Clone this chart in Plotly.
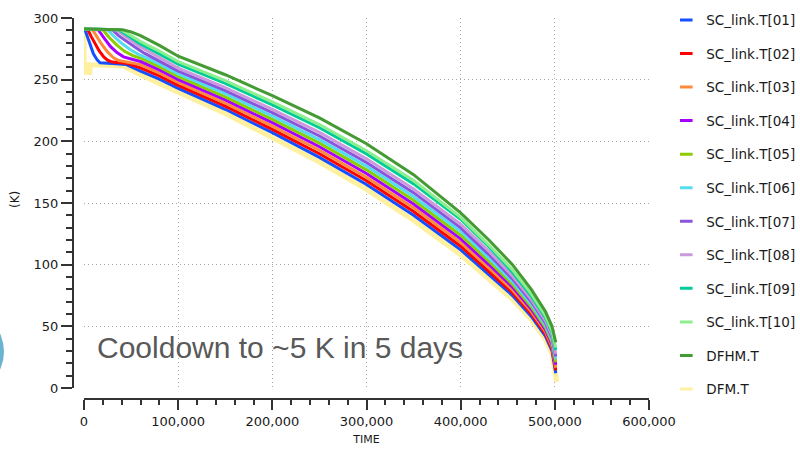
import plotly.graph_objects as go

# ---------------- data (time in thousands of seconds, temperature in K) ----------------
names = ["SC_link.T[01]", "SC_link.T[02]", "SC_link.T[03]", "SC_link.T[04]", "SC_link.T[05]",
         "SC_link.T[06]", "SC_link.T[07]", "SC_link.T[08]", "SC_link.T[09]", "SC_link.T[10]",
         "DFHM.T", "DFM.T"]
colors = ["#1450ff", "#ff0000", "#ff8a3c", "#a800ff", "#8ccc00", "#55dcee",
          "#8a55dd", "#cc99dd", "#00cc99", "#8cee8c", "#449a33", "#fff0a0"]

tail_t = [150, 200, 250, 300, 350, 400, 430, 455, 475, 490, 497, 501]

t01 = [0, 1, 4, 7, 10, 14, 17, 30, 45, 60, 80, 100] + tail_t
y01 = [291, 290.5, 284, 277, 271, 266, 263.7, 263.2, 262.2, 257, 250.5, 243,
       226, 207, 187, 165, 140, 112, 92, 75, 58, 42, 30, 12]
t02 = [0, 4, 8, 12, 16, 21, 25, 30, 45, 60, 80, 100] + tail_t
y02 = [291, 290.5, 284.5, 279, 273.5, 268.5, 265.8, 264.3, 263.4, 259.6, 253, 245.3,
       228.5, 209.7, 189.9, 168, 143.1, 115, 94.7, 77.3, 60, 43.8, 31.8, 14.3]
t03 = [0, 9, 14, 19, 25, 31, 37, 45, 60, 80, 100] + tail_t
y03 = [291, 290.5, 284.5, 278.5, 272.5, 268, 265.5, 264.3, 262.2, 255.4, 247.7,
       231, 212.4, 192.8, 170.9, 146.1, 117.9, 97.4, 79.5, 62, 45.6, 33.6, 16.5]
t04 = [0, 15, 21, 28, 35, 42, 50, 60, 80, 100] + tail_t
y04 = [291, 290.5, 284, 277, 272, 268.5, 266.8, 264.7, 257.9, 250,
       233.6, 215.1, 195.6, 173.9, 149.2, 120.9, 100.1, 81.8, 63.9, 47.4, 35.4, 18.8]
t05 = [0, 20, 27, 35, 43, 52, 62, 80, 100] + tail_t
y05 = [291, 290.5, 284, 278, 273, 269.5, 266.8, 260.3, 252.4,
       236.1, 217.8, 198.5, 176.9, 152.2, 123.9, 102.8, 84, 65.9, 49.2, 37.2, 21]
t06 = [0, 25, 32, 40, 49, 58, 68, 80, 100] + tail_t
y06 = [291, 290.5, 285, 279.5, 274.5, 270.5, 267, 262.8, 254.7,
       238.6, 220.5, 201.4, 179.9, 155.3, 126.9, 105.5, 86.3, 67.9, 51, 39, 23.3]
t07 = [0, 30, 37, 45, 54, 64, 80, 100] + tail_t
y07 = [291, 290.5, 285.5, 281, 276.5, 271.5, 265.2, 257,
       241.1, 223.2, 204.3, 182.8, 158.4, 129.8, 108.2, 88.5, 69.9, 52.8, 40.8, 25.5]
t08 = [0, 34, 41, 49, 58, 68, 80, 100] + tail_t
y08 = [291, 290.5, 286.5, 282, 277.5, 273, 267.7, 259.4,
       243.6, 225.9, 207.2, 185.8, 161.4, 132.8, 110.9, 90.8, 71.9, 54.6, 42.6, 27.8]
t09 = [0, 37, 44, 52, 60, 70, 80, 100] + tail_t
y09 = [291, 290.5, 287, 283, 279, 275, 271, 262.5,
       247, 229.5, 211, 189.8, 165.5, 136.8, 114.5, 93.8, 74.5, 57, 45, 30.8]
t10 = [0, 39, 46, 53, 60, 70, 80, 100] + tail_t
y10 = [291, 290.5, 287.5, 284, 281, 277, 273.2, 264.6,
       249.2, 231.9, 213.6, 192.4, 168.2, 138.4, 115.9, 95.8, 76.3, 58.6, 46.6, 32.8]
t_dfhm = [0, 41, 50, 60, 80, 100] + tail_t
y_dfhm = [291, 290.5, 288.8, 285.7, 277.8, 269,
          254, 237, 219, 198, 173, 142, 120, 100, 80, 62, 50, 37]
t_dfm = [0, 0.3, 0.6, 1, 5, 6, 7, 20, 42, 60, 80, 100] + tail_t + [502]
y_dfm = [293, 254, 262, 262, 262, 254, 262, 262, 261, 254, 247.5, 239.9,
         222.6, 203.4, 183.2, 161, 135.9, 108, 88.4, 72, 55.4, 39.6, 27.6, 8, 5]

series_t = [t01, t02, t03, t04, t05, t06, t07, t08, t09, t10, t_dfhm, t_dfm]
series_y = [y01, y02, y03, y04, y05, y06, y07, y08, y09, y10, y_dfhm, y_dfm]

xtick_vals = [0, 100000, 200000, 300000, 400000, 500000, 600000]
xtick_text = ["0", "100,000", "200,000", "300,000", "400,000", "500,000", "600,000"]
ytick_vals = [0, 50, 100, 150, 200, 250, 300]

# ---------------- figure ----------------
fig = go.Figure()

# draw order: DFM behind, then T01..T10, DFHM on top
draw_order = [11] + list(range(11))
for i in draw_order:
    fig.add_trace(go.Scatter(
        x=[v * 1000 for v in series_t[i]], y=series_y[i], mode="lines",
        line=dict(color=colors[i], width=5 if i == 11 else 3),
        name=names[i], showlegend=False, legendgroup=names[i], hoverinfo="skip"))

# legend entries (short dashes)
for i in range(12):
    fig.add_trace(go.Scatter(
        x=[None], y=[None], mode="markers", name=names[i], legendgroup=names[i],
        marker=dict(symbol="line-ew", size=9, color=colors[i],
                    line=dict(width=3, color=colors[i]))))

axis_col = "#333333"
grid_col = "#a8a8a8"

fig.update_layout(
    width=800, height=450,
    margin=dict(l=73, r=151, t=18, b=51, autoexpand=False),
    paper_bgcolor="white", plot_bgcolor="white",
    font=dict(family="DejaVu Sans", size=13, color="#1a1a1a"),
    xaxis=dict(
        domain=[11 / 576, 1], range=[0, 600000], anchor="free", position=0,
        automargin=False,
        showline=True, linecolor=axis_col, linewidth=2,
        ticks="outside", ticklen=10, tickwidth=2, tickcolor=axis_col,
        tickvals=xtick_vals, ticktext=xtick_text,
        showgrid=True, gridcolor=grid_col, griddash="1px,3px", gridwidth=1,
        zeroline=False,
        minor=dict(dtick=20000, tick0=0, ticks="outside", ticklen=5, tickwidth=2,
                   tickcolor=axis_col, showgrid=False),
        title=dict(text="TIME", font=dict(size=11), standoff=7),
    ),
    yaxis=dict(
        domain=[11 / 381, 1], range=[0, 300], anchor="free", position=0,
        automargin=False,
        showline=True, linecolor=axis_col, linewidth=2,
        ticks="outside", ticklen=11, tickwidth=2, tickcolor=axis_col,
        tickvals=ytick_vals, ticksuffix="\u00a0\u00a0",
        showgrid=True, gridcolor=grid_col, griddash="1px,3px", gridwidth=1,
        zeroline=False,
        minor=dict(dtick=10, tick0=0, ticks="outside", ticklen=6, tickwidth=2,
                   tickcolor=axis_col, showgrid=False),
    ),
    legend=dict(x=1.03, y=1.035, xanchor="left", yanchor="top",
                font=dict(size=13.5, color="#1a1a1a"), tracegroupgap=13,
                bgcolor="rgba(0,0,0,0)", maxheight=445),
    annotations=[
        dict(text="Cooldown to ~5 K in 5 days", xref="paper", yref="paper",
             x=22 / 576, y=52 / 381, xanchor="left", yanchor="middle", showarrow=False,
             font=dict(family="Liberation Sans", size=30, color="#595959")),
        dict(text="(K)", xref="paper", yref="paper", textangle=-90,
             x=-58 / 576, y=199 / 381, xanchor="center", yanchor="middle",
             showarrow=False, font=dict(size=12, color="#1a1a1a")),
    ],
    shapes=[dict(type="circle", xref="paper", yref="paper",
                 x0=-154 / 576, x1=-69 / 576, y0=5 / 381, y1=90 / 381,
                 fillcolor="#6ab4d0", line=dict(width=0), layer="above")],
)

fig.write_html("out.html", config={"displayModeBar": False},
               post_script="document.body.style.margin='0';")
